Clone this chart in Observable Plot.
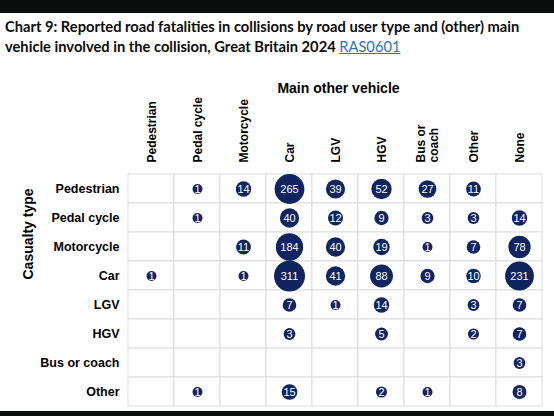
<!DOCTYPE html>
<html>
<head>
<meta charset="utf-8">
<script src="https://cdn.jsdelivr.net/npm/d3@7"></script>
<script src="https://cdn.jsdelivr.net/npm/@observablehq/plot@0.6"></script>
<style>
  body { margin: 0; background: #fff; width: 554px; height: 416px; overflow: hidden; }
  .band { background: #0b0c0c; }
  #title {
    font-family: Lato, sans-serif; font-weight: 700; font-size: 14.7px;
    line-height: 20px; height: 44px; padding: 3px 0 0 5px; box-sizing: content-box; color: #0b0c0c;
    white-space: nowrap;
  }
  #title a { color: #2f74b8; font-weight: 400; text-decoration: underline; }
  #chart svg { display: block; }
</style>
</head>
<body>
<div class="band" style="height:13px"></div>
<div id="title">Chart 9: Reported road fatalities in collisions by road user type and (other) main<br>vehicle involved in the collision, Great Britain 2024 <a href="#">RAS0601</a></div>
<div id="chart"></div>
<div class="band" style="height:5px"></div>
<script>
// rows = casualty type, columns = main other vehicle
const casualtyTypes = ["Pedestrian", "Pedal cycle", "Motorcycle", "Car", "LGV", "HGV", "Bus or coach", "Other"];
const otherVehicles = ["Pedestrian", "Pedal cycle", "Motorcycle", "Car", "LGV", "HGV", "Bus or coach", "Other", "None"];

// one array per casualty type, same order as otherVehicles (null = no fatalities)
const pedestrianRow = [null, 1, 14, 265, 39, 52, 27, 11, null];
const pedalCycleRow = [null, 1, null, 40, 12, 9, 3, 3, 14];
const motorcycleRow = [null, null, 11, 184, 40, 19, 1, 7, 78];
const carRow        = [1, null, 1, 311, 41, 88, 9, 10, 231];
const lgvRow        = [null, null, null, 7, 1, 14, null, 3, 7];
const hgvRow        = [null, null, null, 3, null, 5, null, 2, 7];
const busRow        = [null, null, null, null, null, null, null, null, 3];
const otherRow      = [null, 1, null, 15, null, 2, 1, null, 8];

const rows = [pedestrianRow, pedalCycleRow, motorcycleRow, carRow, lgvRow, hgvRow, busRow, otherRow];

// build the table for Plot
let cells = [];
let data = [];
casualtyTypes.forEach(function(c, i) {
  otherVehicles.forEach(function(v, j) {
    cells.push({casualty: c, vehicle: v});
    if (rows[i][j] != null) {
      data.push({casualty: c, vehicle: v, value: rows[i][j]});
    }
  });
});

const navy = "#10245f";

let chart = Plot.plot({
  width: 554,
  height: 351,
  marginLeft: 127,
  marginRight: 11,
  marginTop: 114,
  marginBottom: 5,
  style: {fontFamily: "Liberation Sans, Arial, sans-serif", background: "white"},
  x: {domain: otherVehicles, padding: 0, axis: null},
  y: {domain: casualtyTypes, padding: 0, axis: null},
  r: {type: "pow", exponent: 0.3, domain: [1, 311], range: [5, 15.5]},
  marks: [
    Plot.cell(cells, {x: "vehicle", y: "casualty", fill: "white", stroke: "#dcdcdc", strokeWidth: 1}),
    Plot.axisX({
      anchor: "top", tickRotate: -90, tickSize: 0, tickPadding: 12, label: null,
      fontSize: 12, fontWeight: "bold", fill: "#000", lineHeight: 1.05,
      tickFormat: d => d === "Bus or coach" ? "Bus or\ncoach" : d
    }),
    Plot.axisY({
      anchor: "left", tickSize: 0, tickPadding: 8, label: null,
      fontSize: 12.5, fontWeight: "bold", fill: "#000"
    }),
    Plot.text(["Main other vehicle"], {frameAnchor: "top", dx: 3, dy: -91, fontSize: 14, fontWeight: "bold", fill: "#000"}),
    Plot.text(["Casualty type"], {frameAnchor: "left", dx: -99, dy: -11, rotate: -90, fontSize: 14, fontWeight: "bold", fill: "#000"}),
    Plot.dot(data, {x: "vehicle", y: "casualty", r: "value", fill: navy}),
    Plot.text(data, {x: "vehicle", y: "casualty", text: d => String(d.value), fill: "white", fontSize: 11})
  ]
});

d3.select("#chart").append(() => chart);
</script>
</body>
</html>
